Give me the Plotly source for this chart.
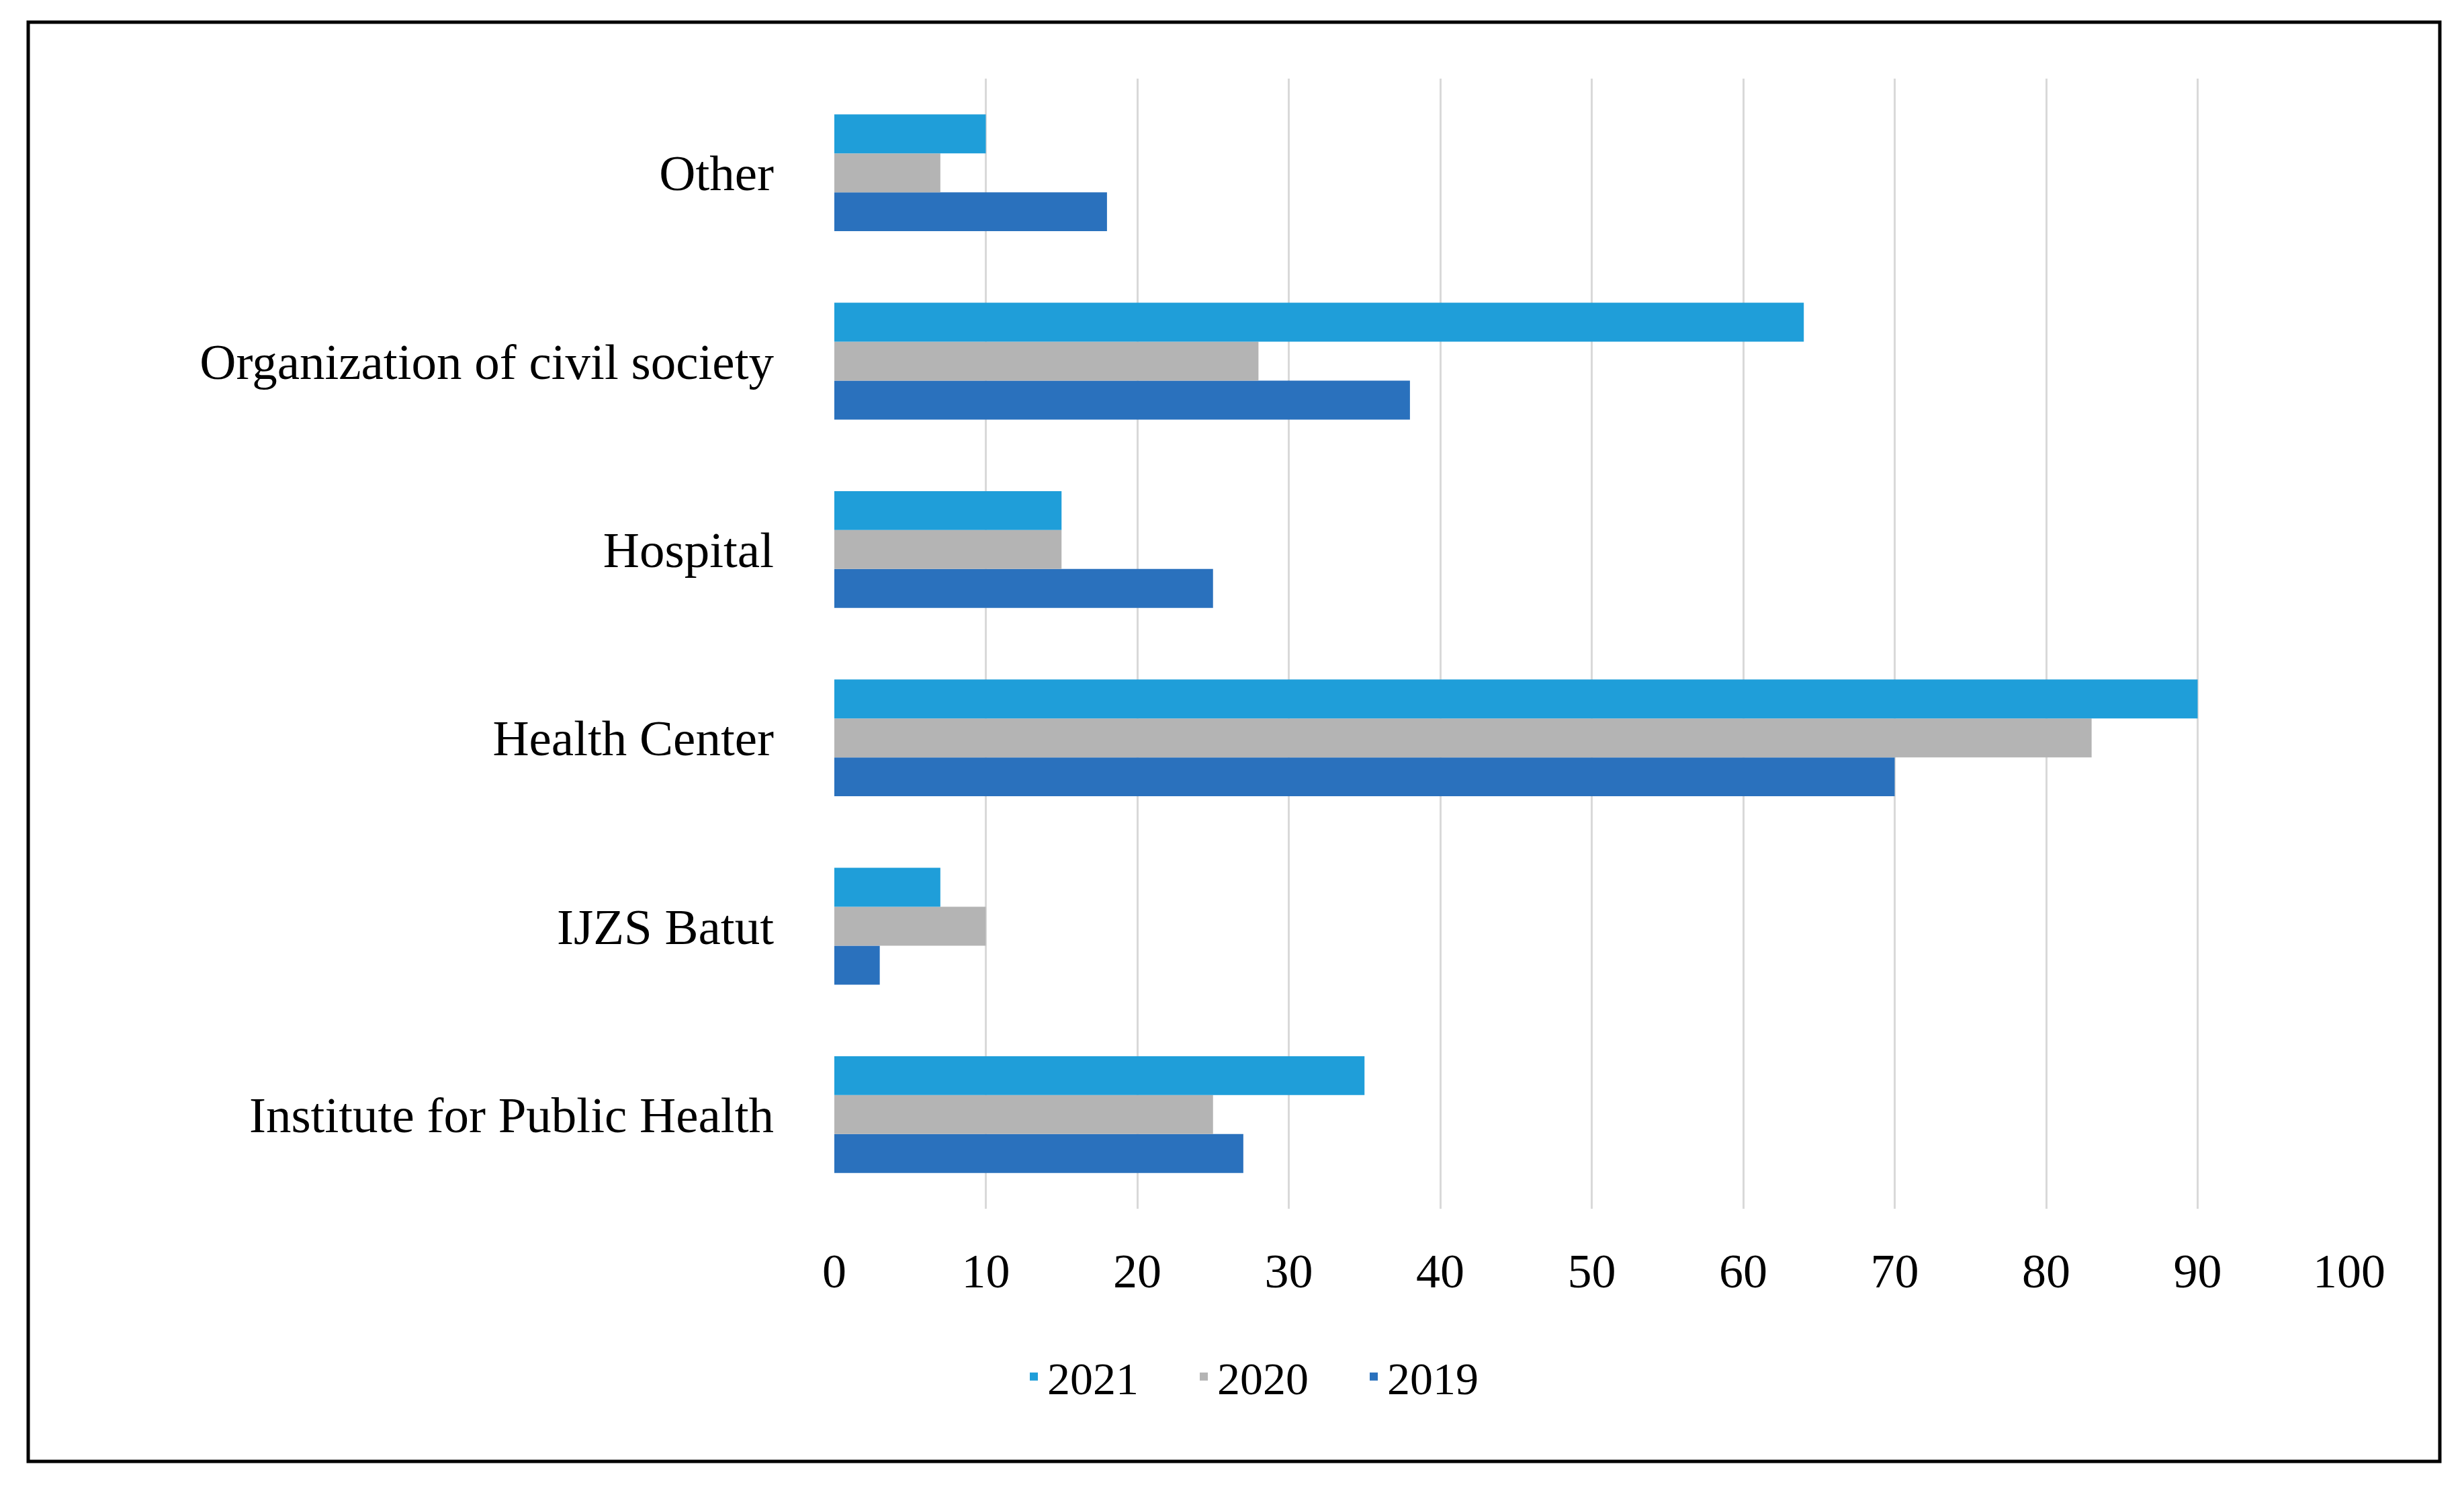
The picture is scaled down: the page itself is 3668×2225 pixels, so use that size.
import plotly.graph_objects as go

categories = ["Institute for Public Health", "IJZS Batut", "Health Center",
              "Hospital", "Organization of civil society", "Other"]
years = ["2019", "2020", "2021"]
values_2019 = [27, 3, 70, 25, 38, 18]
values_2020 = [25, 10, 83, 15, 28, 7]
values_2021 = [35, 7, 90, 15, 64, 10]
x_ticks = [0, 10, 20, 30, 40, 50, 60, 70, 80, 90, 100]

colors = {"2019": "#2a71bd", "2020": "#b4b4b4", "2021": "#1f9ed9"}
series = {"2019": values_2019, "2020": values_2020, "2021": values_2021}

W, H = 3668, 2225
L, R, T, B = 1234, 179, 109, 434
pw, ph = W - L - R, H - T - B

fig = go.Figure()
for yr in years:
    fig.add_trace(go.Bar(
        y=categories, x=series[yr], name=yr, orientation="h",
        marker=dict(color=colors[yr], line=dict(width=0)),
    ))

def px2paper_x(p):
    return (p - L) / pw

def px2paper_y(p):
    return (H - B - p) / ph

fig.update_layout(
    width=W, height=H,
    margin=dict(l=L, r=R, t=T, b=B, pad=0),
    paper_bgcolor="white", plot_bgcolor="white",
    barmode="group", bargap=0.38, bargroupgap=0,
    font=dict(family="Liberation Serif", size=75, color="black"),
    xaxis=dict(range=[0, 100], tickvals=x_ticks, showgrid=True,
               gridcolor="#d9d9d9", gridwidth=3, zeroline=False,
               showline=False, ticks="", ticklabelstandoff=44,
               tickfont=dict(size=72)),
    yaxis=dict(categoryorder="array", categoryarray=categories,
               showgrid=False, zeroline=False, showline=False, ticks="",
               ticklabelstandoff=89, tickfont=dict(size=75)),
    legend=dict(orientation="h", traceorder="reversed",
                x=px2paper_x(1511), xanchor="left",
                y=px2paper_y(2041), yanchor="middle",
                entrywidth=208, entrywidthmode="pixels",
                font=dict(size=68), bgcolor="rgba(0,0,0,0)"),
    shapes=[dict(type="rect", xref="paper", yref="paper",
                 x0=px2paper_x(34), x1=px2paper_x(3624),
                 y0=px2paper_y(2167), y1=px2paper_y(25),
                 line=dict(color="black", width=5), layer="below")],
)

fig.write_html("out.html")
